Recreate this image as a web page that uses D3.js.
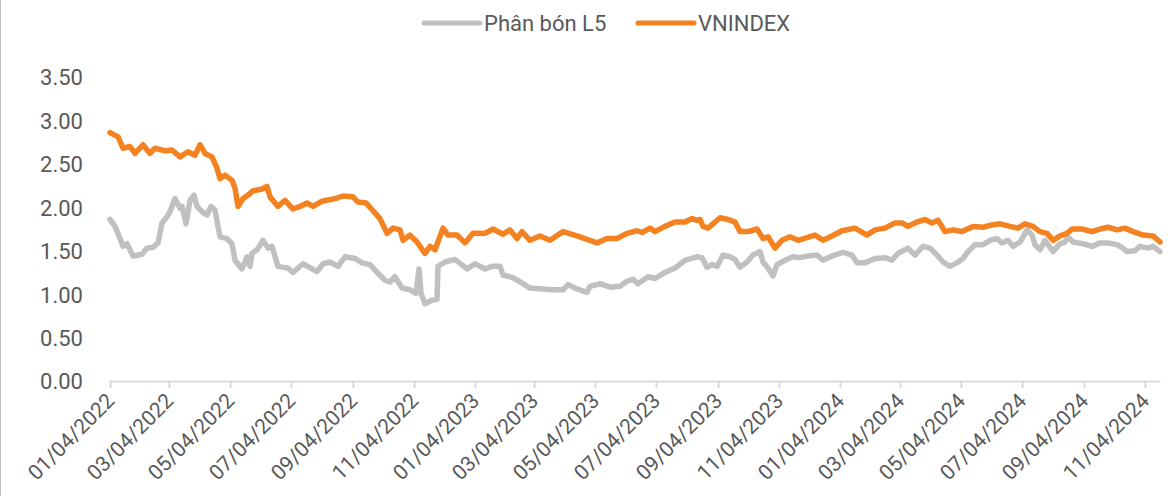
<!DOCTYPE html>
<html>
<head>
<meta charset="utf-8">
<script src="https://cdn.jsdelivr.net/npm/d3@7"></script>
<style>
  html, body { margin: 0; padding: 0; background: #fff; }
  #chart { width: 1175px; height: 496px; }
  text { font-family: Roboto, "Open Sans", sans-serif; fill: #595959; }
</style>
</head>
<body>
<div id="chart"></div>
<script>
// Phân bón L5 (gray)
const fertDates = ["2022-01-04","2022-01-09","2022-01-14","2022-01-17","2022-01-21","2022-01-27","2022-02-05","2022-02-10","2022-02-16","2022-02-21","2022-02-25","2022-03-02","2022-03-05","2022-03-10","2022-03-15","2022-03-17","2022-03-21","2022-03-25","2022-03-29","2022-04-01","2022-04-06","2022-04-11","2022-04-15","2022-04-19","2022-04-24","2022-05-01","2022-05-06","2022-05-09","2022-05-16","2022-05-21","2022-05-24","2022-05-26","2022-05-31","2022-06-06","2022-06-11","2022-06-15","2022-06-21","2022-07-01","2022-07-06","2022-07-16","2022-07-30","2022-08-05","2022-08-12","2022-08-20","2022-08-27","2022-09-06","2022-09-13","2022-09-21","2022-09-29","2022-10-06","2022-10-11","2022-10-16","2022-10-23","2022-10-31","2022-11-06","2022-11-09","2022-11-11","2022-11-15","2022-11-22","2022-11-27","2022-11-28","2022-12-05","2022-12-15","2022-12-27","2023-01-04","2023-01-14","2023-01-21","2023-01-29","2023-02-01","2023-02-11","2023-02-21","2023-02-28","2023-03-13","2023-03-23","2023-04-02","2023-04-07","2023-04-14","2023-04-26","2023-04-29","2023-05-09","2023-05-19","2023-05-29","2023-06-05","2023-06-11","2023-06-16","2023-06-26","2023-07-03","2023-07-13","2023-07-23","2023-08-02","2023-08-14","2023-08-19","2023-08-24","2023-08-29","2023-09-03","2023-09-09","2023-09-16","2023-09-21","2023-09-26","2023-10-03","2023-10-09","2023-10-16","2023-10-19","2023-10-24","2023-10-29","2023-11-02","2023-11-10","2023-11-18","2023-11-25","2023-12-03","2023-12-12","2023-12-18","2023-12-27","2024-01-07","2024-01-16","2024-01-21","2024-01-29","2024-02-08","2024-02-18","2024-02-25","2024-03-02","2024-03-07","2024-03-12","2024-03-19","2024-03-27","2024-04-03","2024-04-10","2024-04-16","2024-04-23","2024-04-30","2024-05-06","2024-05-11","2024-05-18","2024-05-26","2024-06-02","2024-06-09","2024-06-14","2024-06-20","2024-06-25","2024-07-02","2024-07-09","2024-07-14","2024-07-17","2024-07-22","2024-07-27","2024-07-30","2024-08-04","2024-08-11","2024-08-16","2024-08-19","2024-08-24","2024-09-03","2024-09-12","2024-09-20","2024-09-28","2024-10-07","2024-10-13","2024-10-17","2024-10-25","2024-10-30","2024-11-07","2024-11-12","2024-11-19"];
const fertValues = [1.86,1.78,1.64,1.55,1.58,1.44,1.46,1.53,1.54,1.59,1.82,1.89,1.95,2.10,1.99,2.01,1.81,2.08,2.14,2.01,1.95,1.91,2.01,1.97,1.66,1.64,1.58,1.39,1.29,1.43,1.32,1.47,1.51,1.62,1.53,1.55,1.32,1.30,1.25,1.35,1.26,1.35,1.37,1.32,1.43,1.41,1.36,1.34,1.24,1.16,1.14,1.20,1.07,1.05,1.01,1.29,1.01,0.89,0.93,0.94,1.32,1.37,1.40,1.29,1.35,1.29,1.32,1.32,1.22,1.19,1.12,1.07,1.06,1.05,1.05,1.11,1.07,1.02,1.09,1.12,1.08,1.09,1.15,1.17,1.12,1.20,1.18,1.25,1.30,1.39,1.43,1.42,1.31,1.34,1.32,1.45,1.43,1.40,1.31,1.37,1.45,1.49,1.37,1.30,1.21,1.34,1.39,1.43,1.42,1.44,1.45,1.39,1.44,1.48,1.45,1.36,1.36,1.41,1.42,1.39,1.47,1.50,1.53,1.45,1.55,1.53,1.45,1.37,1.32,1.36,1.41,1.49,1.57,1.57,1.62,1.64,1.59,1.62,1.55,1.60,1.74,1.68,1.57,1.51,1.62,1.57,1.49,1.58,1.60,1.66,1.60,1.58,1.55,1.59,1.59,1.57,1.53,1.49,1.50,1.55,1.53,1.55,1.49];

// VNINDEX (orange)
const vniDates = ["2022-01-04","2022-01-12","2022-01-17","2022-01-24","2022-01-29","2022-02-06","2022-02-13","2022-02-18","2022-02-28","2022-03-07","2022-03-15","2022-03-23","2022-03-30","2022-04-04","2022-04-09","2022-04-16","2022-04-21","2022-04-24","2022-04-29","2022-05-06","2022-05-09","2022-05-12","2022-05-17","2022-05-22","2022-05-27","2022-06-05","2022-06-10","2022-06-13","2022-06-21","2022-06-28","2022-07-06","2022-07-13","2022-07-20","2022-07-26","2022-08-04","2022-08-17","2022-08-25","2022-09-04","2022-09-09","2022-09-17","2022-09-21","2022-10-01","2022-10-08","2022-10-14","2022-10-21","2022-10-24","2022-10-31","2022-11-07","2022-11-15","2022-11-20","2022-11-25","2022-12-03","2022-12-08","2022-12-17","2022-12-25","2023-01-02","2023-01-14","2023-01-22","2023-02-01","2023-02-08","2023-02-15","2023-02-20","2023-02-28","2023-03-10","2023-03-20","2023-04-02","2023-04-16","2023-04-26","2023-05-06","2023-05-16","2023-05-26","2023-06-05","2023-06-15","2023-06-20","2023-06-28","2023-07-03","2023-07-13","2023-07-23","2023-08-02","2023-08-09","2023-08-14","2023-08-17","2023-08-20","2023-08-25","2023-09-06","2023-09-14","2023-09-21","2023-09-26","2023-10-04","2023-10-13","2023-10-19","2023-10-24","2023-10-31","2023-11-07","2023-11-15","2023-11-23","2023-12-02","2023-12-10","2023-12-18","2023-12-27","2024-01-06","2024-01-19","2024-01-31","2024-02-08","2024-02-18","2024-02-28","2024-03-06","2024-03-12","2024-03-21","2024-03-29","2024-04-05","2024-04-11","2024-04-18","2024-04-26","2024-05-05","2024-05-16","2024-05-26","2024-06-05","2024-06-12","2024-06-22","2024-06-30","2024-07-07","2024-07-15","2024-07-22","2024-07-29","2024-08-04","2024-08-11","2024-08-18","2024-08-23","2024-09-02","2024-09-12","2024-09-20","2024-09-28","2024-10-07","2024-10-15","2024-10-23","2024-11-02","2024-11-12","2024-11-19"];
const vniValues = [2.86,2.81,2.68,2.70,2.62,2.72,2.62,2.68,2.65,2.66,2.58,2.64,2.60,2.72,2.62,2.58,2.45,2.33,2.37,2.31,2.22,2.01,2.10,2.14,2.19,2.21,2.24,2.12,2.01,2.08,1.98,2.01,2.05,2.01,2.07,2.10,2.13,2.12,2.06,2.05,2.00,1.87,1.70,1.76,1.74,1.62,1.68,1.60,1.47,1.55,1.51,1.76,1.68,1.68,1.59,1.70,1.70,1.75,1.69,1.74,1.64,1.72,1.62,1.67,1.62,1.72,1.67,1.63,1.59,1.64,1.64,1.70,1.73,1.71,1.76,1.72,1.78,1.83,1.83,1.87,1.85,1.86,1.78,1.76,1.88,1.86,1.83,1.72,1.72,1.75,1.64,1.66,1.53,1.62,1.66,1.62,1.65,1.68,1.62,1.67,1.73,1.76,1.68,1.74,1.76,1.82,1.82,1.78,1.83,1.86,1.82,1.85,1.72,1.74,1.72,1.78,1.77,1.80,1.81,1.78,1.76,1.81,1.78,1.72,1.70,1.62,1.67,1.70,1.75,1.75,1.72,1.75,1.77,1.74,1.76,1.72,1.68,1.67,1.60];

const xTickDates = ["2022-01-04","2022-03-04","2022-05-04","2022-07-04","2022-09-04","2022-11-04","2023-01-04","2023-03-04","2023-05-04","2023-07-04","2023-09-04","2023-11-04","2024-01-04","2024-03-04","2024-05-04","2024-07-04","2024-09-04","2024-11-04"];
const yTicks = [0, 0.5, 1, 1.5, 2, 2.5, 3, 3.5];

const seriesNames = ["Phân bón L5", "VNINDEX"];
const seriesColors = ["#C0C0C0", "#F58220"];

const parse = d3.timeParse("%Y-%m-%d");
const fmt = d3.timeFormat("%m/%d/%Y");

const width = 1175, height = 496;
const margin = { top: 77, right: 15, bottom: 115, left: 110 };

const svg = d3.select("#chart").append("svg")
    .attr("width", width)
    .attr("height", height);

// khung trái
svg.append("line")
    .attr("x1", 0.5).attr("x2", 0.5)
    .attr("y1", 0).attr("y2", height)
    .attr("stroke", "#BFBFBF").attr("stroke-width", 1);

const fert = fertDates.map((d, i) => ({ date: parse(d), value: fertValues[i] }));
const vni = vniDates.map((d, i) => ({ date: parse(d), value: vniValues[i] }));

const x = d3.scaleTime()
    .domain(d3.extent(vniDates.concat(fertDates), parse))
    .range([margin.left, width - margin.right]);
const y = d3.scaleLinear()
    .domain([0, 3.5])
    .range([height - margin.bottom, margin.top]);

// trục Y (chỉ nhãn)
const yAxis = svg.append("g")
    .attr("transform", `translate(${margin.left - 27},0)`)
    .call(d3.axisLeft(y).tickValues(yTicks).tickFormat(d3.format(".2f")).tickSize(0).tickPadding(0));
yAxis.select(".domain").remove();
yAxis.selectAll("text")
    .style("font-size", "22px")
    .attr("fill", "#595959")
    .attr("dy", "0.36em");

// trục X
const xAxis = svg.append("g")
    .attr("transform", `translate(0,${y(0)})`)
    .call(d3.axisBottom(x).tickValues(xTickDates.map(parse)).tickFormat(fmt).tickSizeInner(7).tickSizeOuter(0));
xAxis.select(".domain").attr("stroke", "#D9D9D9").attr("stroke-width", 2);
xAxis.selectAll(".tick line").attr("stroke", "#D9D9D9").attr("stroke-width", 2);
xAxis.selectAll("text")
    .style("font-size", "21px")
    .attr("fill", "#595959")
    .attr("text-anchor", "end")
    .attr("x", 0).attr("y", 0)
    .attr("dy", "0.35em")
    .attr("transform", "translate(0,16) rotate(-45)");

const line = d3.line()
    .x(d => x(d.date))
    .y(d => y(d.value));

[fert, vni].forEach((data, i) => {
    svg.append("path")
        .datum(data)
        .attr("fill", "none")
        .attr("stroke", seriesColors[i])
        .attr("stroke-width", 5.5)
        .attr("stroke-linejoin", "round")
        .attr("stroke-linecap", "round")
        .attr("d", line);
});

// chú thích
const legendX = [424, 638];
seriesNames.forEach((name, i) => {
    const g = svg.append("g").attr("transform", `translate(${legendX[i]},23)`);
    g.append("line")
        .attr("x1", 0).attr("x2", 56)
        .attr("stroke", seriesColors[i])
        .attr("stroke-width", 5)
        .attr("stroke-linecap", "round");
    g.append("text")
        .attr("x", 60)
        .attr("dy", "0.36em")
        .style("font-size", "22px")
        .text(name);
});
</script>
</body>
</html>
